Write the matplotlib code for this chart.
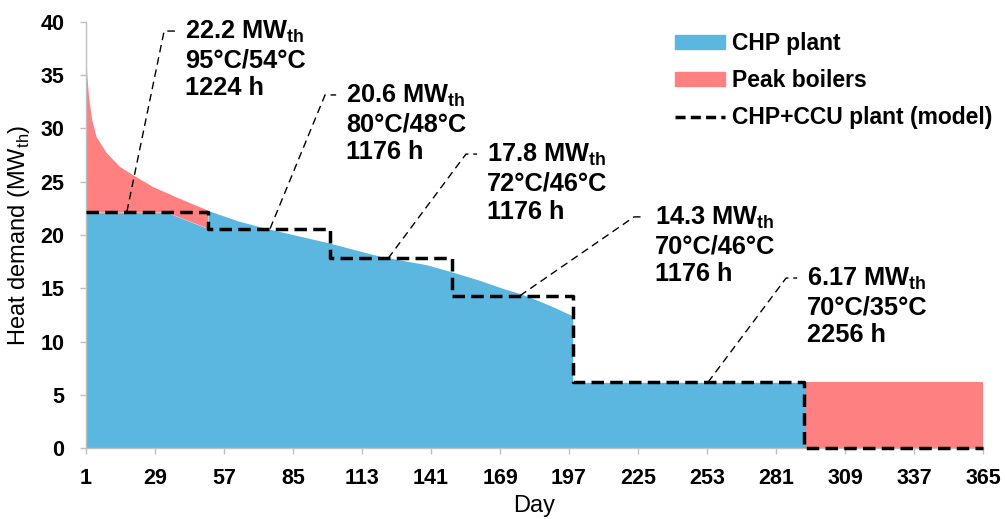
import numpy as np
import matplotlib
matplotlib.use("Agg")
import matplotlib.pyplot as plt
from matplotlib.patches import Patch
from matplotlib.lines import Line2D

plt.rcParams['font.family'] = ['Liberation Sans', 'DejaVu Sans']
plt.rcParams['mathtext.fontset'] = 'custom'
plt.rcParams['mathtext.rm'] = 'Liberation Sans:bold'
plt.rcParams['mathtext.sf'] = 'Liberation Sans'

# heat demand duration curve (day, MW_th)
peak_day = [1, 1.5, 2.2, 3.5, 5.3, 9.4, 14.8, 20.2, 28.3, 39.1, 50.5]
peak_mw = [37.4, 35.2, 33.0, 30.8, 29.2, 27.7, 26.4, 25.6, 24.5, 23.4, 22.3]

# part of the demand covered by the CHP plant
chp_day = [1, 34, 50.5, 50.5, 63, 74.5, 98.8, 120.3, 139.4, 150, 160, 170,
           177.1, 185, 192, 198.5, 198.5, 293]
chp_mw = [22.1, 22.1, 20.6, 22.3, 21.3, 20.6, 19.3, 18.0, 17.2, 16.5, 15.8, 15.0,
          14.5, 13.8, 13.1, 12.4, 6.17, 6.17]

# summer period, peak boilers only
summer_day = [293, 365]
summer_mw = [6.17, 6.17]

# CHP+CCU plant model steps
ccu_edges = [1, 50.5, 100, 149.5, 198.5, 292.5, 365]
ccu_mw = [22.2, 20.6, 17.8, 14.3, 6.17, 0, 0]

# annotations
ann_power = ['22.2', '20.6', '17.8', '14.3', '6.17']
ann_temps = ['95°C/54°C', '80°C/48°C', '72°C/46°C', '70°C/46°C', '70°C/35°C']
ann_hours = ['1224 h', '1176 h', '1176 h', '1176 h', '2256 h']
ann_day = [17.6, 75.7, 123.6, 177.1, 253.4]
elbow_day = [32.7, 98.0, 155.2, 223.4, 285.1]
elbow_mw = [39.15, 33.15, 27.6, 21.7, 15.96]

xticks = list(range(1, 366, 28))
yticks = list(range(0, 41, 5))

blue = '#5BB6E0'
red = '#FF8080'
grey = '#BFBFBF'

fig = plt.figure(figsize=(10.05, 5.19), dpi=100)
ax = fig.add_axes([86/1005, 71/519, 897/1005, 426/519])

# red area: demand above the CHP output
red_x = peak_day + chp_day[2::-1]
red_y = peak_mw + chp_mw[2::-1]
ax.fill(red_x, red_y, color=red, lw=0, zorder=1)
ax.fill_between(summer_day, 0, summer_mw, color=red, lw=0, zorder=1)
ax.fill_between(chp_day, 0, chp_mw, color=blue, lw=0, zorder=2)

ax.plot(ccu_edges, ccu_mw, drawstyle='steps-post', color='black', lw=2.5,
        dashes=(3.6, 1.8), clip_on=False, zorder=4)

for i in range(len(ann_day)):
    level = ccu_mw[i]
    ax.plot([ann_day[i], elbow_day[i], elbow_day[i] + 4.5], [level, elbow_mw[i], elbow_mw[i]],
            color='black', lw=1.0, dashes=(5.5, 3.5), zorder=3)
    lines = [ann_power[i] + r' MW$_{\mathrm{th}}$', ann_temps[i], ann_hours[i]]
    for k, txt in enumerate(lines):
        ax.annotate(txt, xy=(elbow_day[i], elbow_mw[i]), xytext=(15, -5.8 - 20.3*k),
                    textcoords='offset points', va='baseline', ha='left',
                    fontsize=18.3, fontweight='bold', zorder=5)

ax.set_xlim(1, 365)
ax.set_ylim(0, 40)
ax.set_xticks(xticks)
ax.set_yticks(yticks)
ax.tick_params(axis='both', colors=grey, labelcolor='black', labelsize=15.5, width=1, length=4.5)
ax.tick_params(axis='x', pad=10)
ax.tick_params(axis='y', pad=11)
for lab in ax.get_xticklabels() + ax.get_yticklabels():
    lab.set_fontweight('bold')
for s in ['top', 'right']:
    ax.spines[s].set_visible(False)
for s in ['left', 'bottom']:
    ax.spines[s].set_color(grey)
    ax.spines[s].set_linewidth(1)

ax.set_xlabel('Day', fontsize=17)
ax.set_ylabel(r'Heat demand (MW$_{\mathsf{th}}$)', fontsize=17)
ax.xaxis.set_label_coords(0.5, -0.11)
ax.yaxis.set_label_coords(-0.06, 0.5)

handles = [Patch(color=blue), Patch(color=red),
           Line2D([0], [0], color='black', lw=2.5, dashes=(2.9, 1.5))]
labels = ['CHP plant', 'Peak boilers', 'CHP+CCU plant (model)']
ax.legend(handles, labels, loc='upper left', bbox_to_anchor=(675/1005, 1 - 32/519),
          bbox_transform=fig.transFigure, frameon=False, borderpad=0, borderaxespad=0,
          handlelength=2.2, handleheight=0.55, handletextpad=0.3, labelspacing=0.62,
          prop={'size': 16.5, 'weight': 'bold'})

plt.savefig('out.png', dpi=100)
